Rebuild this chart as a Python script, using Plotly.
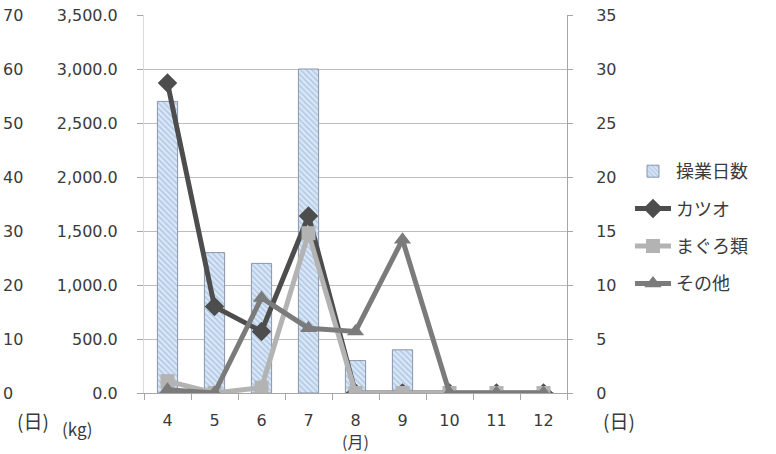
import plotly.graph_objects as go

# Monthly catch (kg) by species and fishing days
months = ["4", "5", "6", "7", "8", "9", "10", "11", "12"]
days = [27, 13, 12, 30, 3, 4, 0, 0, 0]                      # 操業日数 (日)
katsuo = [2870, 800, 570, 1640, 0, 0, 0, 0, 0]             # カツオ (kg)
maguro = [110, 0, 50, 1480, 0, 0, 0, 0, 0]                 # まぐろ類 (kg)
sonota = [30, 0, 880, 600, 570, 1420, 0, 0, 0]             # その他 (kg)

W, H = 776, 454
ML, MR, MT, MB = 0, 209, 15, 61
PW, PH = W - ML - MR, H - MT - MB
X0 = 144  # left edge of the plotting region in px


def px(x):
    return (x - ML) / PW


def py(y):
    return (H - MB - y) / PH


NUM_FONT = "DejaVu Sans, sans-serif"
JP_FONT = "Noto Sans CJK JP, sans-serif"
TXT = "#3a3a3a"
num = dict(family=NUM_FONT, size=16, color=TXT)

fig = go.Figure()

# fishing days as bars on the base (day) axis
fig.add_trace(go.Bar(
    x=months, y=days, name="操業日数", yaxis="y", width=0.43,
    marker=dict(color="#d3e3f4",
                line=dict(color="#8a96a8", width=1),
                pattern=dict(shape="\\", fgcolor="#8eadd5", bgcolor="#ddeaf8",
                             size=4, solidity=0.5)),
    legendgroup="a",
))

# catches as lines on the kg axis (overlay, drawn above the bars)
fig.add_trace(go.Scatter(
    x=months, y=katsuo, name="カツオ", mode="lines+markers", yaxis="y2",
    line=dict(color="#4d4d4d", width=5),
    marker=dict(symbol="diamond", size=15, color="#4d4d4d"),
    legendgroup="b",
))
fig.add_trace(go.Scatter(
    x=months, y=maguro, name="まぐろ類", mode="lines+markers", yaxis="y2",
    line=dict(color="#b3b3b3", width=5),
    marker=dict(symbol="square", size=14, color="#b3b3b3"),
    legendgroup="c",
))
fig.add_trace(go.Scatter(
    x=months, y=sonota, name="その他", mode="lines+markers", yaxis="y2",
    line=dict(color="#7b7b7b", width=5),
    marker=dict(symbol="triangle-up", size=15, color="#7b7b7b"),
    legendgroup="d",
))

# empty trace so the outer day-scale axis is drawn
fig.add_trace(go.Scatter(x=months, y=[None] * len(months), yaxis="y3",
                         showlegend=False, hoverinfo="skip"))

fig.update_layout(
    width=W, height=H,
    margin=dict(l=ML, r=MR, t=MT, b=MB, pad=0),
    paper_bgcolor="white", plot_bgcolor="white",
    font=dict(family=NUM_FONT, size=16, color=TXT),
    xaxis=dict(
        domain=[px(X0), 1], type="category", range=[-0.5, 8.5],
        showline=True, linecolor="#a6a6a6", linewidth=1,
        ticks="outside", tickson="boundaries", ticklen=6, tickcolor="#a6a6a6",
        ticklabelstandoff=13, showgrid=False, zeroline=False,
        tickfont=num,
    ),
    yaxis=dict(
        range=[0, 35], dtick=5, side="right", anchor="x",
        showgrid=True, gridcolor="#bdbdbd", gridwidth=1, zeroline=False,
        showline=True, linecolor="#a6a6a6", linewidth=1,
        ticks="outside", ticklen=5, tickcolor="#a6a6a6",
        ticklabelstandoff=20, tickfont=num,
    ),
    yaxis2=dict(
        range=[0, 3500], dtick=500, tickformat=",.1f",
        overlaying="y", side="left", anchor="x",
        showgrid=False, zeroline=False,
        showline=True, linecolor="#d9d9d9", linewidth=1,
        ticks="outside", ticklen=6, tickcolor="#a6a6a6",
        ticklabelstandoff=16, tickfont=num,
    ),
    yaxis3=dict(
        range=[0, 70], dtick=10, overlaying="y", side="right",
        anchor="free", position=0.0, showgrid=False, zeroline=False,
        showline=False, ticks="", ticklabelstandoff=2, tickfont=num,
    ),
    legend=dict(
        x=px(630), y=py(153), xanchor="left", yanchor="top",
        traceorder="grouped", tracegroupgap=11,
        font=dict(family=JP_FONT, size=18, color=TXT), itemwidth=36,
        bgcolor="rgba(0,0,0,0)",
    ),
)

ann = dict(xref="paper", yref="paper", showarrow=False,
           xanchor="center", yanchor="middle")
fig.add_annotation(text="(日)", x=px(33), y=py(420),
                   font=dict(family=JP_FONT, size=19, color=TXT), **ann)
fig.add_annotation(text="(kg)", x=px(77), y=py(428),
                   font=dict(family=JP_FONT, size=17, color=TXT), **ann)
fig.add_annotation(text="(月)", x=px(355), y=py(441),
                   font=dict(family=JP_FONT, size=16, color=TXT), **ann)
fig.add_annotation(text="(日)", x=px(619), y=py(421),
                   font=dict(family=JP_FONT, size=19, color=TXT), **ann)

fig.write_html("out.html")
